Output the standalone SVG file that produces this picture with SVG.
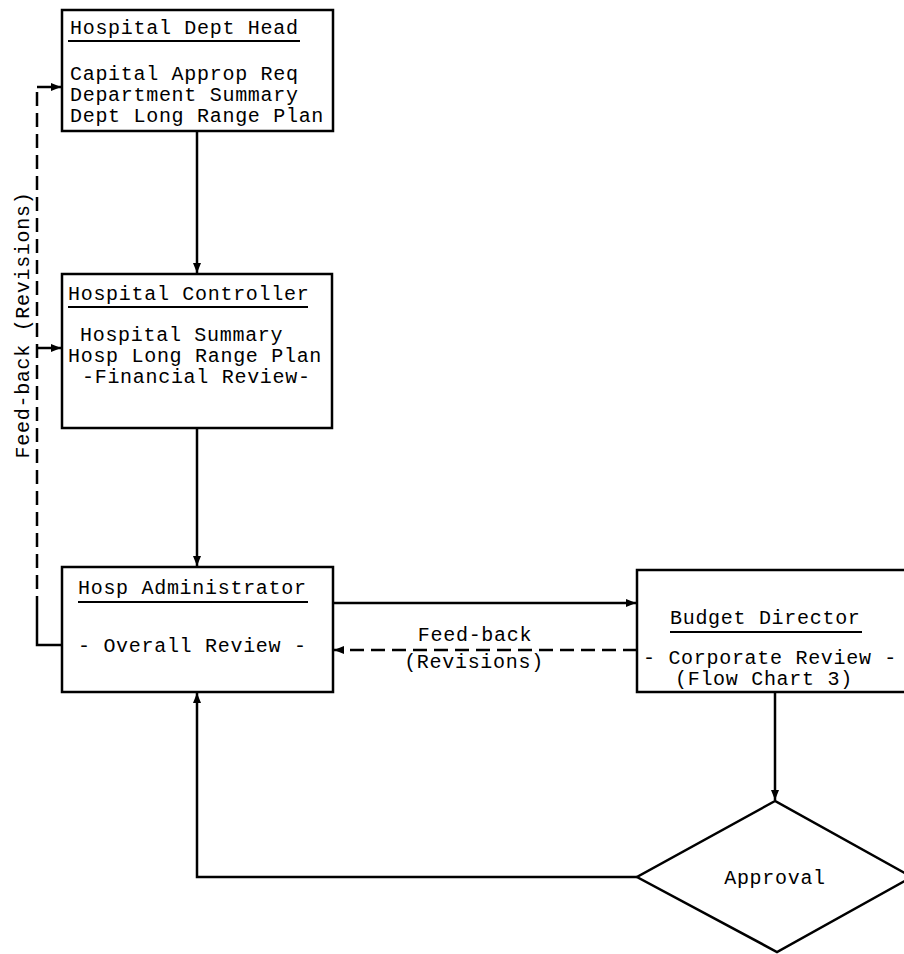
<svg xmlns="http://www.w3.org/2000/svg" width="904" height="954" viewBox="0 0 904 954">
<defs>
<style>
.box{fill:#fff;stroke:#000;stroke-width:2.5}
.t{font-family:"Liberation Mono","DejaVu Sans Mono",monospace;font-size:20px;letter-spacing:0.7px;fill:#000}
.ul{stroke:#000;stroke-width:2}
.ln{fill:none;stroke:#000;stroke-width:2.5}
.dash{fill:none;stroke:#000;stroke-width:2.5;stroke-dasharray:14 7}
</style>
<marker id="ah" viewBox="0 0 10 10" refX="10" refY="5" markerWidth="10" markerHeight="10" markerUnits="userSpaceOnUse" orient="auto">
<path d="M0,1 L10,5 L0,9 Z" fill="#000"/>
</marker>
</defs>
<rect width="904" height="954" fill="#fff"/>
<g id="connectors">
<line class="ln" x1="197" y1="131" x2="197" y2="273" marker-end="url(#ah)"/>
<line class="ln" x1="197" y1="428" x2="197" y2="566" marker-end="url(#ah)"/>
<line class="ln" x1="333" y1="603" x2="636" y2="603" marker-end="url(#ah)"/>
<line class="dash" x1="637" y1="650" x2="334" y2="650" marker-end="url(#ah)"/>
<line class="ln" x1="775" y1="692" x2="775" y2="800" marker-end="url(#ah)"/>
<polyline class="ln" points="637,877 197,877 197,693" marker-end="url(#ah)"/>
<polyline class="ln" points="62,645 37,645 37,610"/>
<line class="dash" x1="37" y1="610" x2="37" y2="87"/>
<line class="ln" x1="37" y1="87" x2="61" y2="87" marker-end="url(#ah)"/>
<line class="ln" x1="37" y1="348" x2="61" y2="348" marker-end="url(#ah)"/>
<text class="t" transform="translate(29,325) rotate(-90)" text-anchor="middle">Feed-back (Revisions)</text>
<text class="t" x="475" y="641" text-anchor="middle">Feed-back</text>
<text class="t" x="474" y="668" text-anchor="middle">(Revisions)</text>
</g>
<g id="dept-head">
<rect class="box" x="62" y="10" width="271" height="121"/>
<text class="t" x="70" y="34">Hospital Dept Head</text>
<line class="ul" x1="68" y1="41" x2="300" y2="41"/>
<text class="t" x="70" y="80">Capital Approp Req</text>
<text class="t" x="70" y="101">Department Summary</text>
<text class="t" x="70" y="122">Dept Long Range Plan</text>
</g>
<g id="controller">
<rect class="box" x="62" y="274" width="270" height="154"/>
<text class="t" x="68" y="300">Hospital Controller</text>
<line class="ul" x1="68" y1="307" x2="308" y2="307"/>
<text class="t" x="80" y="341">Hospital Summary</text>
<text class="t" x="68" y="362">Hosp Long Range Plan</text>
<text class="t" x="82" y="383">-Financial Review-</text>
</g>
<g id="administrator">
<rect class="box" x="62" y="567" width="271" height="125"/>
<text class="t" x="78" y="594">Hosp Administrator</text>
<line class="ul" x1="78" y1="602" x2="308" y2="602"/>
<text class="t" x="78" y="652">- Overall Review -</text>
</g>
<g id="budget-director">
<rect class="box" x="637" y="570" width="280" height="122"/>
<text class="t" x="670" y="624">Budget Director</text>
<line class="ul" x1="670" y1="632" x2="862" y2="632"/>
<text class="t" x="643" y="664">- Corporate Review -</text>
<text class="t" x="675" y="685">(Flow Chart 3)</text>
</g>
<g id="approval">
<polygon class="box" points="775,801 637,877 777,952 912,877"/>
<text class="t" x="775" y="884" text-anchor="middle">Approval</text>
</g>
</svg>
